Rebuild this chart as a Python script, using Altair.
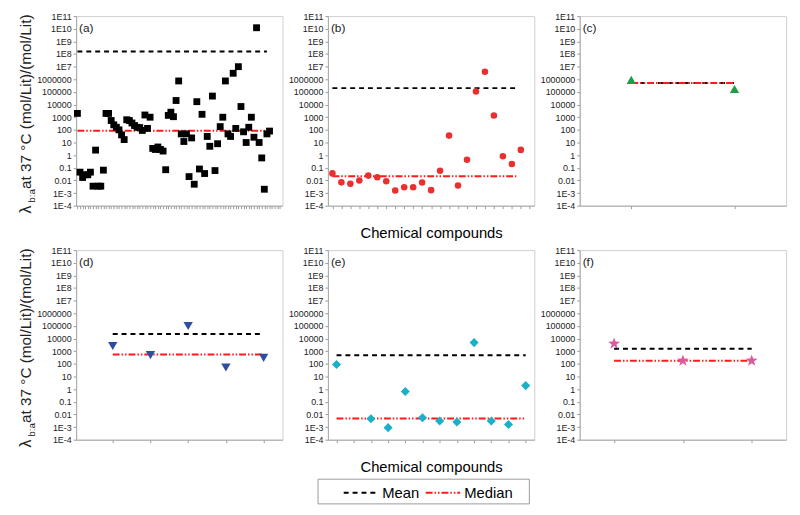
import altair as alt
import pandas as pd

# ---------------- data ----------------
LOG_TICKS = [1e-4, 1e-3, 1e-2, 1e-1, 1, 10, 100, 1e3, 1e4, 1e5, 1e6, 1e7, 1e8, 1e9, 1e10, 1e11]

a_values = [2000, 0.045, 0.017, 0.028, 0.028, 0.045, 0.0035, 2.5, 0.0035, 0.0035,
            0.065, 2000, 2000, 550, 250, 160, 100, 40, 17, 630,
            550, 350, 220, 160, 150, 90, 1500, 130, 1000, 3.4,
            2.8, 4.4, 2.8, 2.1, 0.07, 1400, 2500, 1100, 21000, 740000,
            48, 12, 48, 0.02, 23, 0.005, 17000, 0.08, 1700, 0.035,
            30, 5, 47000, 0.06, 8, 180, 1000, 740000, 48, 30,
            3000000, 130, 1e7, 7000, 70, 10, 160, 1000, 26, 1.2e10,
            10, 0.6, 0.002, 48, 80]
b_values = [0.036, 0.007, 0.0054, 0.010, 0.024, 0.018, 0.0085, 0.0016, 0.0029, 0.0029,
            0.0068, 0.0017, 0.059, 35, 0.004, 0.43, 110000, 4000000, 1350, 0.83,
            0.2, 2.6]
c_values = [900000, 170000]
d_values = [2600, 490, 98000, 52, 300]
e_values = [90, None, 0.0045, 0.0009, 0.66, 0.0054, 0.003, 0.0025, 4800, 0.003, 0.0016, 1.9]
f_values = [4000, 180, 180]

mean_values = {"a": 1.6e8, "b": 2.0e5, "c": 5.2e5, "d": 23000, "e": 490, "f": 1600}
median_values = {"a": 85, "b": 0.021, "c": 5.2e5, "d": 560, "e": 0.0048, "f": 180}

STAT_NAMES = ["Mean", "Median"]
STAT_COLORS = ["#000000", "#ff1a1a"]
STAT_DASHES = [[5, 4], [7, 2, 1.5, 2, 1.5, 2]]

STAR = ("M0,-1L0.235,-0.324L0.951,-0.309L0.38,0.124L0.588,0.809L0,0.4"
        "L-0.588,0.809L-0.38,0.124L-0.951,-0.309L-0.235,-0.324Z")

PW, PH = 209, 192

LEGEND = alt.Legend(orient="none", legendX=270, legendY=464, direction="horizontal",
                    title=None, padding=0,
                    labelFontSize=15, labelColor="#000", labelOffset=3,
                    symbolType="stroke", symbolSize=1225, symbolStrokeWidth=2,
                    columnPadding=2)

YLABEL_EXPR = ("(datum.value >= 1e7 || datum.value < 0.005) ? "
               "'1E' + round(log(datum.value)/LN10) : '' + datum.value")


def make_panel(letter, values, n_slots, domain, span, shape, color, size,
               xtitle=None, ytitle=False, legend_box=False):
    df = pd.DataFrame({"idx": list(range(1, len(values) + 1)), "val": values}).dropna()
    ticks = list(range(1, n_slots + 1))
    xax = alt.Axis(values=ticks, labels=False, grid=False, tickSize=3,
                   tickColor="#9a9a9a", domainColor="#a8a8a8",
                   title=xtitle, titleFontSize=15, titleFontWeight="normal",
                   titleColor="#000", titlePadding=17)
    yax = alt.Axis(values=LOG_TICKS, labelExpr=YLABEL_EXPR, grid=False, title=None,
                   tickSize=3, tickColor="#9a9a9a", domainColor="#a8a8a8",
                   labelFontSize=9, labelColor="#222", labelPadding=2)
    xs = alt.Scale(domain=domain, nice=False, zero=False)
    ys = alt.Scale(type="log", domain=[1e-4, 1e11], nice=False)

    stats = pd.DataFrame({"stat": STAT_NAMES,
                          "val": [mean_values[letter], median_values[letter]],
                          "idx": [span[0]] * 2, "idx2": [span[1]] * 2})
    rules = alt.Chart(stats).mark_rule(strokeWidth=2).encode(
        x=alt.X("idx:Q", scale=xs, axis=xax),
        x2="idx2",
        y=alt.Y("val:Q", scale=ys, axis=yax),
        color=alt.Color("stat:N", scale=alt.Scale(domain=STAT_NAMES, range=STAT_COLORS),
                        legend=LEGEND),
        strokeDash=alt.StrokeDash("stat:N",
                                  scale=alt.Scale(domain=STAT_NAMES, range=STAT_DASHES),
                                  legend=LEGEND),
    )
    pts = alt.Chart(df).mark_point(shape=shape, filled=True, size=size, color=color,
                                   opacity=1).encode(
        x=alt.X("idx:Q", scale=xs, axis=xax),
        y=alt.Y("val:Q", scale=ys, axis=yax),
    )
    lab = alt.Chart(pd.DataFrame({"t": ["(" + letter + ")"]})).mark_text(
        align="left", baseline="middle", fontSize=12, color="#222").encode(
        x=alt.value(3), y=alt.value(12), text="t:N")
    layers = [rules, pts, lab]
    if ytitle:
        t1 = alt.Chart(pd.DataFrame({"t": ["λ"]})).mark_text(
            angle=270, align="left", baseline="alphabetic", fontSize=16, color="#222").encode(
            x=alt.value(-46), y=alt.value(200), text="t:N")
        t2 = alt.Chart(pd.DataFrame({"t": ["b:a"]})).mark_text(
            angle=270, align="left", baseline="alphabetic", fontSize=10, color="#222").encode(
            x=alt.value(-42), y=alt.value(189), text="t:N")
        t3 = alt.Chart(pd.DataFrame({"t": ["at 37 °C (mol/Lit)/(mol/Lit)"]})).mark_text(
            angle=270, align="left", baseline="alphabetic", fontSize=15.5, color="#222").encode(
            x=alt.value(-46), y=alt.value(175), text="t:N")
        layers += [t1, t2, t3]
    if legend_box:
        box = alt.Chart(pd.DataFrame({"k": [0]})).mark_rect(
            fillOpacity=0, stroke="#9a9a9a", strokeWidth=1).encode(
            x=alt.value(-10), x2=alt.value(204), y=alt.value(232), y2=alt.value(257))
        layers.append(box)
    return alt.layer(*layers).properties(width=PW, height=PH)


pa = make_panel("a", a_values, 79, [0.5, 80], [1, 74], "square", "#000000", 48, ytitle=True)
pb = make_panel("b", b_values, 23, [0.5, 23.5], [1, 21.5], "circle", "#e8312f", 44,
                xtitle="Chemical compounds")
pc = make_panel("c", c_values, 2, [0.5, 2.5], [1, 2], "triangle-up", "#1f9e48", 90)
pd_ = make_panel("d", d_values, 5, [0.03, 5.5], [1, 5], "triangle-down", "#2e4e9e", 90,
                 ytitle=True)
pe = make_panel("e", e_values, 12, [0.5, 12.5], [1, 12], "diamond", "#19b0c8", 85,
                xtitle="Chemical compounds", legend_box=True)
pf = make_panel("f", f_values, 3, [0.5, 3.5], [1, 3], STAR, "#dd5a9e", 160)

chart = alt.concat(pa, pb, pc, pd_, pe, pf, columns=3, bounds="flush",
                   spacing={"row": 45, "column": 46}).properties(
    padding={"left": 9, "top": 0, "right": 5, "bottom": 3}
).configure(font="Liberation Sans").configure_view(stroke="#cfcfcf")

chart.save("out.html", embed_options={"renderer": "svg", "actions": False})
